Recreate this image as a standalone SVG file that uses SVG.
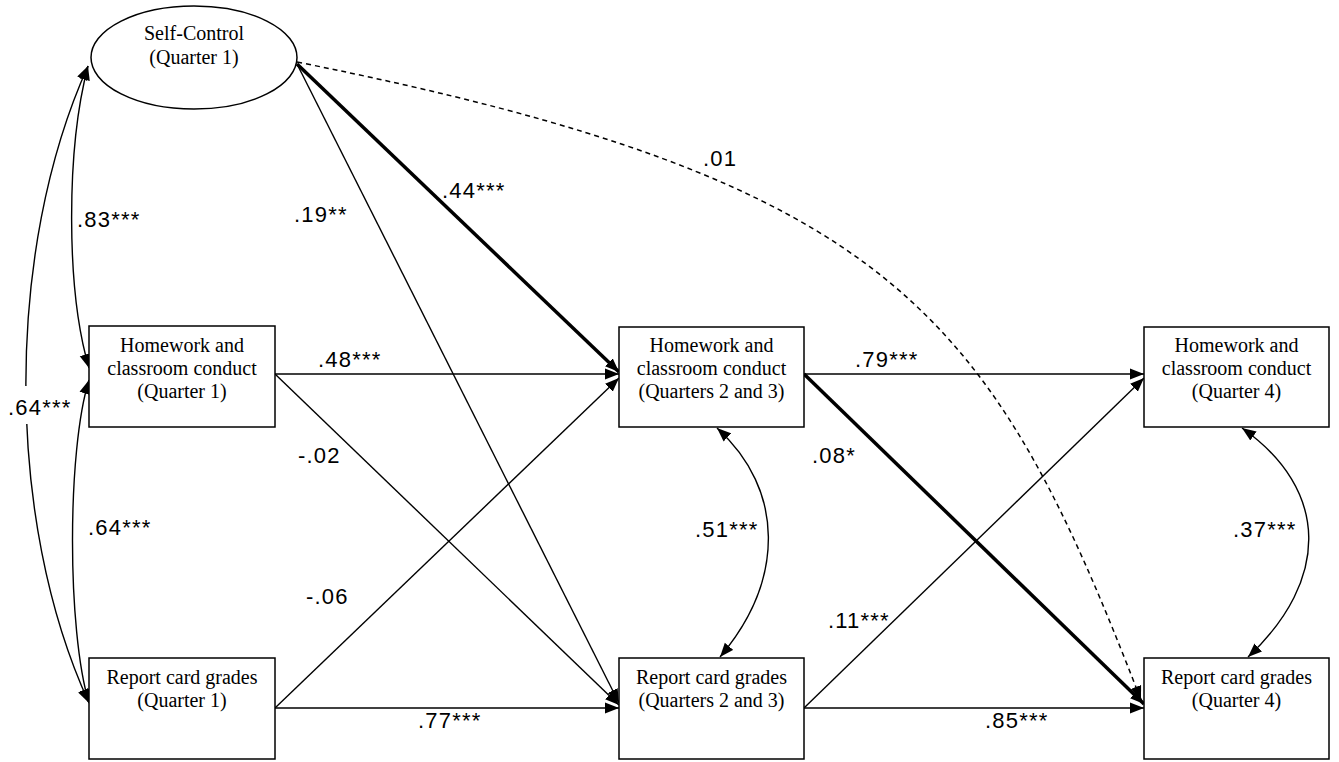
<svg xmlns="http://www.w3.org/2000/svg" width="1339" height="762" viewBox="0 0 1339 762">
<style>
.box{fill:#fff;stroke:#000;stroke-width:1.5}
.t{font-family:"Liberation Serif","Times New Roman",serif;font-size:20px;fill:#000;text-anchor:middle}
.lab{font-family:"Liberation Sans",Arial,sans-serif;font-size:22px;fill:#000;letter-spacing:1.2px}
.c{fill:none;stroke:#000;stroke-width:1.4}
.thick{fill:none;stroke:#000;stroke-width:3.5}
.dash{fill:none;stroke:#000;stroke-width:1.5;stroke-dasharray:5 4}
</style>
<defs>
<marker id="ah" markerUnits="userSpaceOnUse" markerWidth="14" markerHeight="12" refX="14" refY="5.5" orient="auto-start-reverse" viewBox="0 0 14 11">
<path d="M0,0 L14,5.5 L0,11 z" fill="#000"/>
</marker>
</defs>
<g id="connectors">
<path class="c" d="M88,66 C66,150 66,290 89,368" marker-start="url(#ah)" marker-end="url(#ah)"/>
<path class="c" d="M88,66 C5,250 5,520 89,703" marker-start="url(#ah)" marker-end="url(#ah)"/>
<path class="c" d="M89,380 C67,450 67,630 89,703" marker-start="url(#ah)" marker-end="url(#ah)"/>
<rect x="4" y="386" width="72" height="38" fill="#fff"/>
<path class="thick" d="M297,64 L619,372" marker-end="url(#ah)"/>
<path class="c" d="M297,64 L619,703" marker-end="url(#ah)"/>
<path class="dash" d="M297,62 C897,182 991,313 1141,700" marker-end="url(#ah)"/>
<path class="c" d="M275,374 L619,374" marker-end="url(#ah)"/>
<path class="c" d="M275,374 L619,705" marker-end="url(#ah)"/>
<path class="c" d="M275,708 L619,378" marker-end="url(#ah)"/>
<path class="c" d="M275,708 L619,708" marker-end="url(#ah)"/>
<path class="c" d="M804,374 L1144,374" marker-end="url(#ah)"/>
<path class="thick" d="M804,374 L1144,704" marker-end="url(#ah)"/>
<path class="c" d="M804,708 L1144,378" marker-end="url(#ah)"/>
<path class="c" d="M804,708 L1144,708" marker-end="url(#ah)"/>
<path class="c" d="M717,428 C785,490 785,580 720,657" marker-start="url(#ah)" marker-end="url(#ah)"/>
<path class="c" d="M1242,428 C1330,490 1330,580 1248,657" marker-start="url(#ah)" marker-end="url(#ah)"/>
</g>
<g id="labels">
<text class="lab" x="442" y="198">.44***</text>
<text class="lab" x="294" y="222">.19**</text>
<text class="lab" x="703" y="166">.01</text>
<text class="lab" x="77" y="227">.83***</text>
<text class="lab" x="8" y="415">.64***</text>
<text class="lab" x="88" y="535">.64***</text>
<text class="lab" x="318" y="367">.48***</text>
<text class="lab" x="298" y="463">-.02</text>
<text class="lab" x="306" y="604">-.06</text>
<text class="lab" x="418" y="728">.77***</text>
<text class="lab" x="855" y="367">.79***</text>
<text class="lab" x="812" y="463">.08*</text>
<text class="lab" x="695" y="537">.51***</text>
<text class="lab" x="828" y="628">.11***</text>
<text class="lab" x="985" y="728">.85***</text>
<text class="lab" x="1233" y="537">.37***</text>
</g>
<g id="selfcontrol">
<ellipse class="box" cx="194" cy="57.5" rx="103" ry="51.5"/>
<text class="t" x="194" y="40">Self-Control</text>
<text class="t" x="194" y="64">(Quarter 1)</text>
</g>
<g id="hw1">
<rect class="box" x="89" y="326" width="186" height="101"/>
<text class="t" x="182" y="352">Homework and</text>
<text class="t" x="182" y="375">classroom conduct</text>
<text class="t" x="182" y="398">(Quarter 1)</text>
</g>
<g id="rcg1">
<rect class="box" x="89" y="658" width="186" height="101"/>
<text class="t" x="182" y="684">Report card grades</text>
<text class="t" x="182" y="707">(Quarter 1)</text>
</g>
<g id="hw23">
<rect class="box" x="619" y="327" width="185" height="100"/>
<text class="t" x="711.5" y="352">Homework and</text>
<text class="t" x="711.5" y="375">classroom conduct</text>
<text class="t" x="711.5" y="398">(Quarters 2 and 3)</text>
</g>
<g id="rcg23">
<rect class="box" x="619" y="658" width="185" height="101"/>
<text class="t" x="711.5" y="684">Report card grades</text>
<text class="t" x="711.5" y="707">(Quarters 2 and 3)</text>
</g>
<g id="hw4">
<rect class="box" x="1144" y="327" width="185" height="100"/>
<text class="t" x="1236.5" y="352">Homework and</text>
<text class="t" x="1236.5" y="375">classroom conduct</text>
<text class="t" x="1236.5" y="398">(Quarter 4)</text>
</g>
<g id="rcg4">
<rect class="box" x="1144" y="658" width="185" height="101"/>
<text class="t" x="1236.5" y="684">Report card grades</text>
<text class="t" x="1236.5" y="707">(Quarter 4)</text>
</g>
</svg>
